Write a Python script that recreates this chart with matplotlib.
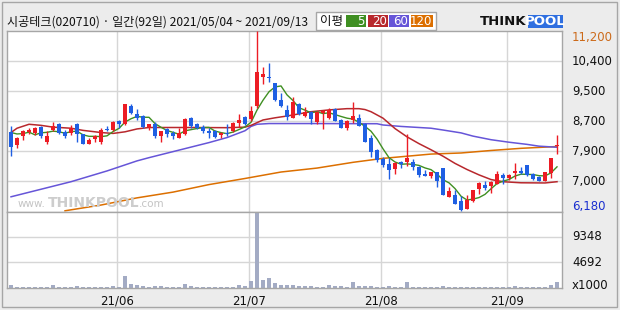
import matplotlib.pyplot as plt
from matplotlib.patches import Rectangle
import numpy as np
import pandas as pd

# daily candles 2021/05/04 ~ 2021/09/13 (92 trading days)
opens = [8390, 8020, 8270, 8400, 8360, 8530, 8130, 8460, 8610, 8390,
         8380, 8630, 8350, 8070, 8210, 8110, 8490, 8450, 8690, 8620,
         9130, 8910, 8840, 8540, 8610, 8290, 8470, 8380, 8240, 8330,
         8780, 8610, 8530, 8410, 8410, 8300, 8380, 8410, 8640, 8800,
         8750, 9120, 9920, 9920, 9760, 9280, 9000, 8780, 9170, 8840,
         8950, 8670, 8930, 8780, 9030, 8730, 8500, 8720, 8780, 8620,
         8220, 7890, 7650, 7510, 7360, 7570, 7560, 7570, 7430, 7230,
         7170, 7270, 7390, 6580, 6640, 6460, 6240, 6480, 6800, 6920,
         6900, 6940, 7200, 7110, 7250, 7310, 7470, 7230, 7140, 7040,
         7250, 8010]
highs = [8550, 8260, 8460, 8500, 8540, 8570, 8430, 8670, 8640, 8460,
         8600, 8640, 8350, 8220, 8320, 8500, 8550, 8690, 8740, 9170,
         9170, 9030, 8860, 8610, 8660, 8430, 8500, 8430, 8500, 8780,
         8800, 8640, 8590, 8500, 8450, 8390, 8610, 8660, 8890, 8830,
         9120, 11200, 10200, 10310, 9760, 9470, 9150, 9380, 9200, 9080,
         8970, 8970, 9010, 9060, 9060, 8750, 8740, 9230, 8890, 8640,
         8300, 7920, 7710, 7670, 7570, 7600, 8340, 7640, 7450, 7340,
         7270, 7280, 7390, 6850, 6780, 6600, 6640, 6770, 7000, 7020,
         7020, 7300, 7250, 7230, 7530, 7410, 7470, 7250, 7170, 7280,
         7670, 8320]
lows = [7730, 7960, 8180, 8340, 8300, 8220, 8070, 8410, 8340, 8240,
        8320, 8130, 8060, 8060, 8130, 8060, 8410, 8430, 8500, 8600,
        8890, 8740, 8500, 8460, 8220, 8110, 8250, 8200, 8220, 8320,
        8500, 8480, 8360, 8220, 8220, 8220, 8270, 8390, 8530, 8590,
        8710, 9060, 9730, 9800, 9260, 9080, 8720, 8780, 8870, 8800,
        8620, 8620, 8480, 8760, 8690, 8500, 8460, 8640, 8550, 8110,
        7690, 7570, 7410, 7090, 7230, 7390, 7450, 7340, 7130, 7160,
        7110, 6850, 6640, 6580, 6380, 6180, 6240, 6440, 6670, 6780,
        6690, 6940, 6940, 7060, 7080, 7220, 7160, 7060, 7020, 7040,
        7110, 7780]
closes = [7990, 8220, 8410, 8460, 8500, 8270, 8290, 8570, 8380, 8290,
          8500, 8340, 8070, 8170, 8290, 8460, 8450, 8660, 8620, 9170,
          8920, 8780, 8540, 8610, 8290, 8410, 8340, 8270, 8360, 8760,
          8570, 8500, 8410, 8370, 8250, 8360, 8350, 8640, 8720, 8620,
          8990, 10060, 10010, 9900, 9290, 9130, 8810, 9220, 8900, 8960,
          8760, 8950, 8970, 9010, 8710, 8500, 8710, 8840, 8570, 8130,
          7830, 7620, 7480, 7340, 7530, 7510, 7670, 7410, 7200, 7180,
          7270, 7040, 6640, 6760, 6380, 6210, 6510, 6770, 6970, 6830,
          6990, 7230, 7110, 7200, 7310, 7250, 7200, 7090, 7040, 7280,
          7670, 8040]
# volume, x1000 shares
volumes = [500, 200, 200, 200, 200, 200, 200, 500, 200, 200,
           200, 300, 200, 200, 200, 200, 200, 300, 200, 2170,
           750, 500, 300, 200, 300, 300, 200, 200, 200, 750,
           300, 200, 200, 200, 200, 200, 200, 200, 500, 300,
           1240, 14004, 1490, 1860, 930, 560, 560, 620, 430, 300,
           300, 200, 200, 500, 370, 370, 200, 1050, 430, 430,
           430, 200, 200, 300, 200, 200, 1050, 200, 200, 200,
           200, 200, 300, 200, 200, 200, 200, 200, 200, 200,
           200, 200, 200, 200, 300, 200, 200, 200, 200, 200,
           620, 1050]

# moving averages (day index, price)
ma5_head = [8380, 8340, 8350, 8390]
ma20_idx = [0, 1, 3, 5, 7, 10, 12, 15, 17, 19, 21, 23, 30, 36, 39, 40, 42, 44, 46, 48,
            50, 53, 56, 58, 59, 60, 62, 64, 66, 68, 70, 72, 74, 76, 78, 80, 82, 85, 89, 91]
ma20_val = [8380, 8500, 8610, 8580, 8530, 8500, 8440, 8380, 8355, 8400, 8480, 8520, 8520,
            8515, 8530, 8580, 8730, 8790, 8840, 8900, 8960, 9010, 9045, 9045, 9020, 8960,
            8780, 8490, 8260, 8070, 7900, 7720, 7520, 7350, 7200, 7070, 7010, 6980, 6975, 7010]
ma60_idx = [0, 5, 10, 16, 21, 23, 28, 33, 36, 39, 40, 41, 43, 50, 61, 62, 65, 68, 70, 72,
            75, 77, 80, 83, 86, 88, 91]
ma60_val = [6590, 6800, 7010, 7310, 7590, 7680, 7890, 8100, 8240, 8430, 8550, 8610, 8630,
            8630, 8625, 8590, 8550, 8520, 8500, 8450, 8370, 8280, 8180, 8110, 8050, 8000, 7970]
ma120_idx = [9, 15, 21, 27, 33, 39, 45, 51, 57, 62, 66, 70, 75, 80, 85, 91]
ma120_val = [6200, 6360, 6560, 6720, 6930, 7100, 7280, 7390, 7550, 7660, 7720, 7780, 7810,
             7880, 7940, 7990]

month_idx = [18, 40, 62, 83]
month_labels = ['21/06', '21/07', '21/08', '21/09']
vol_ticks = [4692, 9348]

W, H = 620, 310
RED = '#ec1c24'
BLUE = '#1f5fe3'
C5, C20, C60, C120 = '#3f8f22', '#b8282d', '#6655d8', '#dc6f00'
GRID = '#d6d6d6'
EDGE = '#a6a6a6'


def box(l, t, r, b):
    return [l / W, 1 - b / H, (r - l) / W, (b - t) / H]


def fx(px):
    return px / W


def fy(py):
    return 1 - py / H


fig = plt.figure(figsize=(6.2, 3.1), dpi=100, facecolor='#ececec')
fig.patches.append(Rectangle((fx(2), fy(307)), fx(615), 305 / H, transform=fig.transFigure,
                             fill=False, ec=EDGE, lw=1))

ax = fig.add_axes(box(7, 31.3, 561.7, 211.5))
axv = fig.add_axes(box(7, 211.5, 561.7, 287.7))

n = len(closes)
x = np.arange(n)
o = np.array(opens)
c = np.array(closes)
up = c >= o
cols = np.where(up, RED, BLUE)

ymin, ymax = min(lows), max(highs)
for a in (ax, axv):
    a.set_xlim(-0.67, 91.78)
    a.set_xticks([])
    a.set_yticks([])
    for s in a.spines.values():
        s.set_color(EDGE)
        s.set_linewidth(1)
    for m in month_idx:
        a.axvline(m - 0.4, color=GRID, lw=1, zorder=0)

ax.set_ylim(ymin, ymax)
step = (ymax - ymin) / 6
for k in range(1, 6):
    v = ymin + k * step
    ax.axhline(v, color=GRID, lw=1, zorder=0)
    ax.text(1.0185, v, f'{round(v, -2):,.0f}', transform=ax.get_yaxis_transform(),
            ha='left', va='center', fontsize=8.5, color='#111111')
ax.text(1.0185, 0.9645, f'{ymax:,}', transform=ax.transAxes, ha='left', va='center',
        fontsize=8.5, color='#cc6a1a')
ax.text(1.0185, 0.0305, f'{ymin:,}', transform=ax.transAxes, ha='left', va='center',
        fontsize=8.5, color='#1a2fd0')

# moving averages
ma5 = pd.Series(closes).rolling(5).mean().to_numpy()
ma5[:4] = ma5_head
ax.plot(ma120_idx, ma120_val, color=C120, lw=1.1, zorder=2)
ax.plot(ma60_idx, ma60_val, color=C60, lw=1.1, zorder=2)
ax.plot(ma20_idx, ma20_val, color=C20, lw=1.1, zorder=2)
ax.plot(x, ma5, color=C5, lw=1.0, zorder=2)

# candles
ax.vlines(x, lows, highs, colors=cols, lw=1, zorder=3)
body = np.maximum(np.abs(c - o), 25)
ax.bar(x, body, bottom=np.minimum(o, c), width=0.72, color=cols, zorder=4)

# volume
axv.set_ylim(36, max(volumes))
for v in vol_ticks:
    axv.axhline(v, color=GRID, lw=1, zorder=0)
    axv.text(1.0185, v, str(v), transform=axv.get_yaxis_transform(), ha='left',
             va='center', fontsize=8.5, color='#111111')
axv.text(1.0185, 0.03, 'x1000', transform=axv.transAxes, ha='left', va='center',
         fontsize=8.5, color='#111111')
axv.bar(x, volumes, width=0.82, color='#a3abc4', zorder=2)
for m, lab in zip(month_idx, month_labels):
    axv.text(m - 0.4, -0.171, lab, transform=axv.get_xaxis_transform(), ha='center',
             va='center', fontsize=8.5, color='#111111')

# watermark
fig.text(fx(45), fy(204), 'www.', fontsize=7.5, color='#c4c4c4', va='center', ha='right')
fig.text(fx(47.5), fy(203), 'THINKPOOL', fontsize=10, fontweight='bold', color='#cdcdcd',
         va='center', ha='left')
fig.text(fx(139), fy(204), '.com', fontsize=7.5, color='#c4c4c4', va='center')

# title
fig.text(fx(7), fy(22), '시공테크(020710) · 일간(92일) 2021/05/04 ~ 2021/09/13',
         fontsize=8.7, family=['Noto Sans CJK KR', 'DejaVu Sans'], va='center',
         color='#111111')

# MA legend
fig.patches.append(Rectangle((fx(316), fy(30)), fx(120), 18 / H, transform=fig.transFigure,
                             fc='white', ec=EDGE, lw=1))
fig.text(fx(320), fy(21.5), '이평', fontsize=9, family=['Noto Sans CJK KR', 'DejaVu Sans'],
         va='center', color='#111111')
for (l, r), lab, col in zip([(346, 366), (367.7, 387.7), (389.3, 409.3), (411, 432.7)],
                            ['5', '20', '60', '120'], [C5, C20, C60, C120]):
    fig.patches.append(Rectangle((fx(l), fy(27.3)), fx(r - l), 12.3 / H,
                                 transform=fig.transFigure, fc=col, ec='none'))
    fig.text(fx(r - 1), fy(21.5), lab, fontsize=8.5, color='white', ha='right', va='center')

# logo
fig.patches.append(Rectangle((fx(527.7), fy(28)), fx(35.3), 13 / H, transform=fig.transFigure,
                             fc='#2f6fe0', ec='none'))
fig.text(fx(526.5), fy(21.5), 'THINK', fontsize=9.5, fontweight='bold', color='#111111',
         va='center', ha='right')
fig.text(fx(545.3), fy(21.5), 'POOL', fontsize=9.5, fontweight='bold', color='white',
         va='center', ha='center')

fig.savefig('out.png', dpi=100, facecolor=fig.get_facecolor())
